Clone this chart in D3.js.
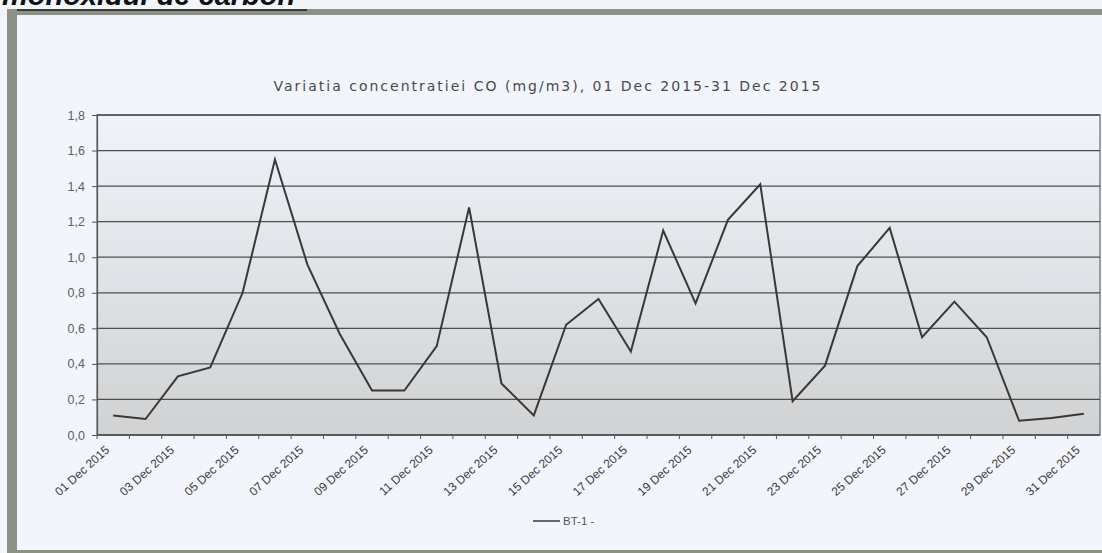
<!DOCTYPE html>
<html>
<head>
<meta charset="utf-8">
<script src="https://cdn.jsdelivr.net/npm/d3@7"></script>
<style>
  html, body { margin: 0; padding: 0; background: #f2f5fc; }
  svg { display: block; }
</style>
</head>
<body>
<svg id="chart"></svg>
<script>
// CO concentration, BT-1 station, December 2015

const width = 1102;
const height = 553;

const dates = [
  '01 Dec 2015', '02 Dec 2015', '03 Dec 2015', '04 Dec 2015', '05 Dec 2015',
  '06 Dec 2015', '07 Dec 2015', '08 Dec 2015', '09 Dec 2015', '10 Dec 2015',
  '11 Dec 2015', '12 Dec 2015', '13 Dec 2015', '14 Dec 2015', '15 Dec 2015',
  '16 Dec 2015', '17 Dec 2015', '18 Dec 2015', '19 Dec 2015', '20 Dec 2015',
  '21 Dec 2015', '22 Dec 2015', '23 Dec 2015', '24 Dec 2015', '25 Dec 2015',
  '26 Dec 2015', '27 Dec 2015', '28 Dec 2015', '29 Dec 2015', '30 Dec 2015',
  '31 Dec 2015'
];

const coValues = [
  0.11, 0.09, 0.33, 0.38, 0.80, 1.55, 0.96, 0.57, 0.25, 0.25,
  0.50, 1.28, 0.29, 0.11, 0.62, 0.765, 0.47, 1.15, 0.74, 1.21,
  1.41, 0.19, 0.39, 0.95, 1.165, 0.55, 0.75, 0.55, 0.08, 0.095,
  0.12
];

// only every other date gets a label
const labelledDates = [
  '01 Dec 2015', '03 Dec 2015', '05 Dec 2015', '07 Dec 2015', '09 Dec 2015',
  '11 Dec 2015', '13 Dec 2015', '15 Dec 2015', '17 Dec 2015', '19 Dec 2015',
  '21 Dec 2015', '23 Dec 2015', '25 Dec 2015', '27 Dec 2015', '29 Dec 2015',
  '31 Dec 2015'
];

const yTicks = [0, 0.2, 0.4, 0.6, 0.8, 1.0, 1.2, 1.4, 1.6, 1.8];

const chartTitle = 'Variatia concentratiei CO (mg/m3),  01 Dec 2015-31 Dec 2015';
const seriesName = 'BT-1 -';
const heading = 'monoxidul de carbon';

const plot = { left: 97, right: 1100, top: 115, bottom: 435 };

const svg = d3.select('#chart')
  .attr('width', width)
  .attr('height', height);

const defs = svg.append('defs');
const grad = defs.append('linearGradient')
  .attr('id', 'plotBg')
  .attr('x1', 0).attr('y1', 0).attr('x2', 0).attr('y2', 1);
grad.append('stop').attr('offset', '0%').attr('stop-color', '#eff3fa');
grad.append('stop').attr('offset', '100%').attr('stop-color', '#d0d2d3');

// page frame (scanned document look), heading is cut by the scan
svg.append('text')
  .attr('x', 2)
  .attr('y', 5)
  .attr('font-family', 'Liberation Sans, Arial, sans-serif')
  .attr('font-weight', 'bold')
  .attr('font-style', 'italic')
  .attr('font-size', 29)
  .attr('fill', '#111')
  .text(heading);

svg.append('rect')
  .attr('x', 7).attr('y', 9)
  .attr('width', width - 7).attr('height', 6)
  .attr('fill', '#8d9186');
svg.append('rect')
  .attr('x', 7).attr('y', 9)
  .attr('width', 300).attr('height', 2)
  .attr('fill', '#3a3c36');
svg.append('rect')
  .attr('x', 7).attr('y', 9)
  .attr('width', 10).attr('height', height - 9)
  .attr('fill', '#8d9186');
svg.append('rect')
  .attr('x', 7).attr('y', height - 3)
  .attr('width', width - 7).attr('height', 3)
  .attr('fill', '#8d9186');

const x = d3.scaleBand()
  .domain(dates)
  .range([plot.left, plot.right]);

const y = d3.scaleLinear()
  .domain([0, 1.8])
  .range([plot.bottom, plot.top]);

// plot background
svg.append('rect')
  .attr('x', plot.left)
  .attr('y', plot.top)
  .attr('width', plot.right - plot.left)
  .attr('height', plot.bottom - plot.top)
  .attr('fill', 'url(#plotBg)')
  .attr('stroke', '#6a6a6a')
  .attr('stroke-width', 1.2);

// horizontal grid
svg.append('g')
  .selectAll('line')
  .data(yTicks)
  .join('line')
    .attr('x1', plot.left)
    .attr('x2', plot.right)
    .attr('y1', d => y(d))
    .attr('y2', d => y(d))
    .attr('stroke', '#4e4e4e')
    .attr('stroke-width', 1.3);

// y axis
const yAxis = svg.append('g')
  .attr('transform', `translate(${plot.left},0)`)
  .call(d3.axisLeft(y)
    .tickValues(yTicks)
    .tickSize(5)
    .tickPadding(7)
    .tickFormat(d => d3.format('.1f')(d).replace('.', ',')));
yAxis.select('.domain').attr('stroke', '#555').attr('stroke-width', 1.2);
yAxis.selectAll('.tick line').attr('stroke', '#555');
yAxis.selectAll('.tick text')
  .attr('font-family', 'Liberation Sans, Arial, sans-serif')
  .attr('font-size', 12.5)
  .attr('fill', '#606060');

// x axis: a tick at every category boundary
svg.append('line')
  .attr('x1', plot.left).attr('x2', plot.right)
  .attr('y1', plot.bottom).attr('y2', plot.bottom)
  .attr('stroke', '#555').attr('stroke-width', 1.2);

svg.append('g')
  .selectAll('line')
  .data(dates)
  .join('line')
    .attr('x1', d => x(d))
    .attr('x2', d => x(d))
    .attr('y1', plot.bottom)
    .attr('y2', plot.bottom + 4)
    .attr('stroke', '#555');

const xAxis = svg.append('g')
  .attr('transform', `translate(0,${plot.bottom})`)
  .call(d3.axisBottom(x)
    .tickValues(labelledDates)
    .tickSize(0)
    .tickPadding(0));
xAxis.select('.domain').remove();
xAxis.selectAll('.tick text')
  .attr('font-family', 'Liberation Sans, Arial, sans-serif')
  .attr('font-size', 12)
  .attr('fill', '#3a3a3a')
  .attr('text-anchor', 'end')
  .attr('dy', null)
  .attr('transform', 'translate(-3,16) rotate(-42)');

// the series line
const line = d3.line()
  .x((d, i) => x(dates[i]) + x.bandwidth() / 2)
  .y(d => y(d));

svg.append('path')
  .datum(coValues)
  .attr('d', line)
  .attr('fill', 'none')
  .attr('stroke', '#383838')
  .attr('stroke-width', 2)
  .attr('stroke-linejoin', 'miter');

// title (sits left of the plot centre in the original)
svg.append('text')
  .attr('x', 548)
  .attr('y', 91)
  .attr('text-anchor', 'middle')
  .attr('font-family', 'DejaVu Sans, Verdana, sans-serif')
  .attr('font-size', 14)
  .attr('letter-spacing', 2)
  .attr('fill', '#4a4a4a')
  .text(chartTitle);

// legend
const legend = svg.append('g').attr('transform', 'translate(533,521)');
legend.append('line')
  .attr('x1', 0).attr('x2', 27)
  .attr('y1', 0).attr('y2', 0)
  .attr('stroke', '#383838')
  .attr('stroke-width', 1.5);
legend.append('text')
  .attr('x', 30)
  .attr('y', 4)
  .attr('font-family', 'Liberation Sans, Arial, sans-serif')
  .attr('font-size', 11.5)
  .attr('fill', '#555')
  .text(seriesName);
</script>
</body>
</html>
